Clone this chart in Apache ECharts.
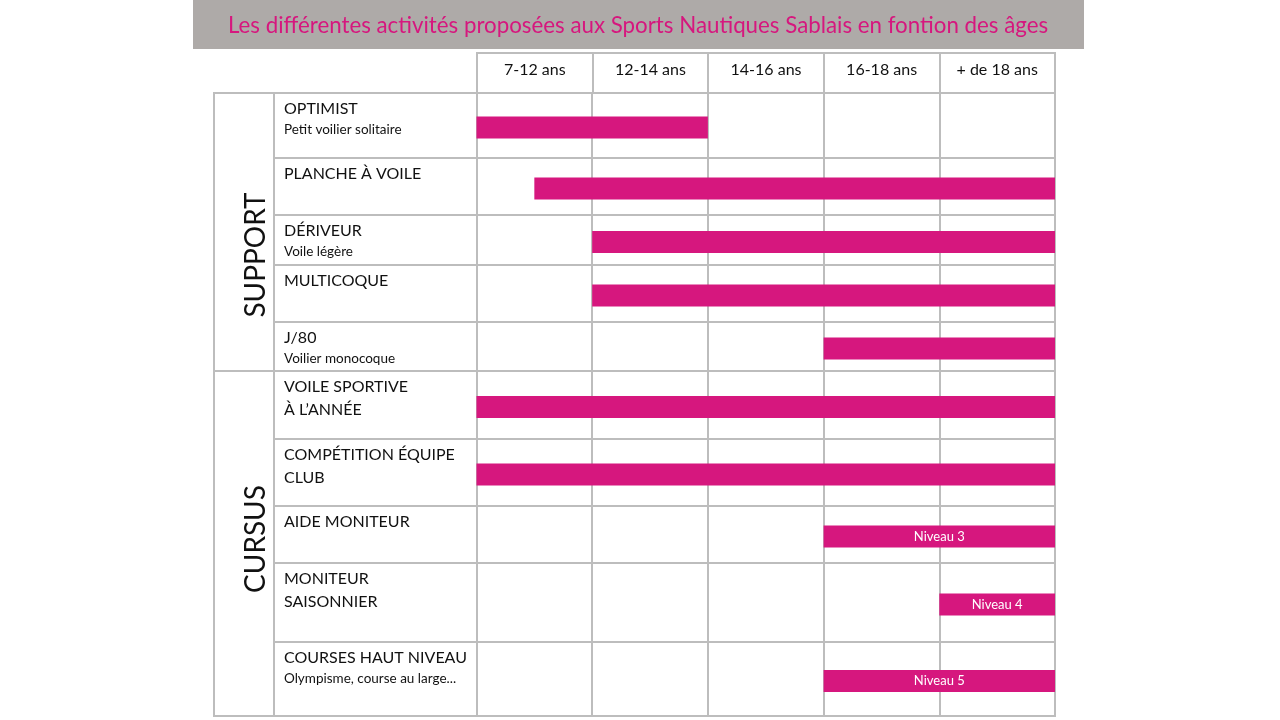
<!DOCTYPE html>
<html>
<head>
<meta charset="utf-8">
<script src="https://cdn.jsdelivr.net/npm/echarts@6/dist/echarts.min.js"></script>
<style>
  html, body { margin: 0; padding: 0; background: #fff; }
  #chart { width: 1280px; height: 720px; }
</style>
</head>
<body>
<div id="chart"></div>
<script>
// data
const ages = ['7-12 ans', '12-14 ans', '14-16 ans', '16-18 ans', '+ de 18 ans'];
const activities = [
    'OPTIMIST',
    'PLANCHE À VOILE',
    'DÉRIVEUR',
    'MULTICOQUE',
    'J/80',
    'VOILE SPORTIVE\nÀ L’ANNÉE',
    'COMPÉTITION ÉQUIPE\nCLUB',
    'AIDE MONITEUR',
    'MONITEUR\nSAISONNIER',
    'COURSES HAUT NIVEAU'
];
const details = ['Petit voilier solitaire', '', 'Voile légère', '', 'Voilier monocoque', '', '', '', '', 'Olympisme, course au large...'];
const groups = ['SUPPORT', 'CURSUS'];
// column index where each activity starts / ends (0 = 7-12 ans, 5 = after + de 18 ans)
const startCol = [0, 0.5, 1, 1, 3, 0, 0, 3, 4, 3];
const endCol = [2, 5, 5, 5, 5, 5, 5, 5, 5, 5];
const levels = ['', '', '', '', '', '', '', 'Niveau 3', 'Niveau 4', 'Niveau 5'];

// layout: height of each table row
const rowHeights = [65, 57, 50, 57, 49, 68, 67, 57, 79, 74];

const PINK = '#d6177e';
const LINE = '#bdbdbd';
const FONT = 'Lato';

let rowEdges = [0];
rowHeights.forEach((h, i) => rowEdges.push(rowEdges[i] + h));
const rowTops = rowEdges.slice(0, -1);
const rowMid = rowHeights.map((h, i) => rowTops[i] + h / 2 + 2);
const total = rowEdges[rowEdges.length - 1];

function rowLabel(v) {
    let i = rowTops.indexOf(v);
    if (i < 0) return '';
    let s = activities[i].split('\n').map(t => '{a|' + t + '}').join('\n');
    if (details[i]) s += '\n{b|' + details[i] + '}';
    return s;
}

let chart = echarts.init(document.getElementById('chart'));

chart.setOption({
    animation: false,
    title: {
        text: 'Les différentes activités proposées aux Sports Nautiques Sablais en fontion des âges',
        left: 633,
        textAlign: 'center',
        top: 10,
        textStyle: { color: PINK, fontSize: 22.3, fontWeight: 'normal', fontFamily: FONT }
    },
    graphic: [
        { type: 'rect', z: -10, shape: { x: 193, y: 0, width: 891, height: 49 }, style: { fill: '#aeaaa8' } },
        { type: 'rect', shape: { x: 214, y: 93, width: 60, height: 278 }, style: { fill: 'none', stroke: LINE, lineWidth: 2 } },
        { type: 'rect', shape: { x: 214, y: 371, width: 60, height: 345 }, style: { fill: 'none', stroke: LINE, lineWidth: 2 } },
        {
            type: 'text', x: 256, y: 255, rotation: Math.PI / 2,
            style: { text: groups[0], align: 'center', verticalAlign: 'middle', fontSize: 28, fontFamily: FONT, fill: '#111' }
        },
        {
            type: 'text', x: 256, y: 539, rotation: Math.PI / 2,
            style: { text: groups[1], align: 'center', verticalAlign: 'middle', fontSize: 28, fontFamily: FONT, fill: '#111' }
        }
    ],
    grid: [
        { left: 274, right: 225, top: 93, bottom: 4, show: true, borderColor: LINE, borderWidth: 2 },
        { left: 477, right: 225, top: 53, height: 40, show: true, borderColor: LINE, borderWidth: 2 }
    ],
    xAxis: [
        {
            type: 'value', gridIndex: 0, min: -1.75, max: 5,
            axisLine: { show: false },
            axisTick: { show: false, customValues: [0, 1, 2, 3, 4, 5] },
            axisLabel: { show: false },
            splitLine: { show: true, lineStyle: { color: LINE, width: 2 } }
        },
        {
            type: 'category', gridIndex: 1, data: ages, position: 'top',
            axisLine: { show: false },
            axisTick: { show: false },
            splitLine: { show: true, lineStyle: { color: LINE, width: 2 } },
            axisLabel: { inside: true, margin: 17, verticalAlign: 'middle', fontSize: 16, fontFamily: FONT, color: '#111' }
        }
    ],
    yAxis: [
        {
            type: 'value', gridIndex: 0, min: 0, max: total, inverse: true,
            axisLine: { show: false },
            axisTick: { show: false, customValues: rowEdges },
            splitLine: { show: true, lineStyle: { color: LINE, width: 2 } },
            axisLabel: {
                customValues: rowTops,
                inside: true,
                margin: 10,
                align: 'left',
                verticalAlign: 'top',
                padding: [4, 0, 0, 0],
                formatter: rowLabel,
                rich: {
                    a: { fontSize: 16, lineHeight: 23, fontFamily: FONT, color: '#111' },
                    b: { fontSize: 13.5, lineHeight: 19, fontFamily: FONT, color: '#111' }
                }
            }
        },
        { type: 'value', gridIndex: 1, show: false }
    ],
    series: [{
        type: 'custom',
        xAxisIndex: 0,
        yAxisIndex: 0,
        encode: { x: [1, 2] },
        data: activities.map((a, i) => [i, startCol[i], endCol[i]]),
        renderItem: function (params, api) {
            let row = api.value(0);
            let p0 = api.coord([api.value(1), rowMid[row]]);
            let p1 = api.coord([api.value(2), rowMid[row]]);
            let h = 22;
            return {
                type: 'rect',
                shape: { x: p0[0], y: p0[1] - h / 2, width: p1[0] - p0[0], height: h },
                style: { fill: PINK },
                textContent: {
                    style: { text: levels[row], fill: '#fff', fontSize: 13, fontFamily: FONT }
                },
                textConfig: { position: 'inside' }
            };
        }
    }]
});
</script>
</body>
</html>
